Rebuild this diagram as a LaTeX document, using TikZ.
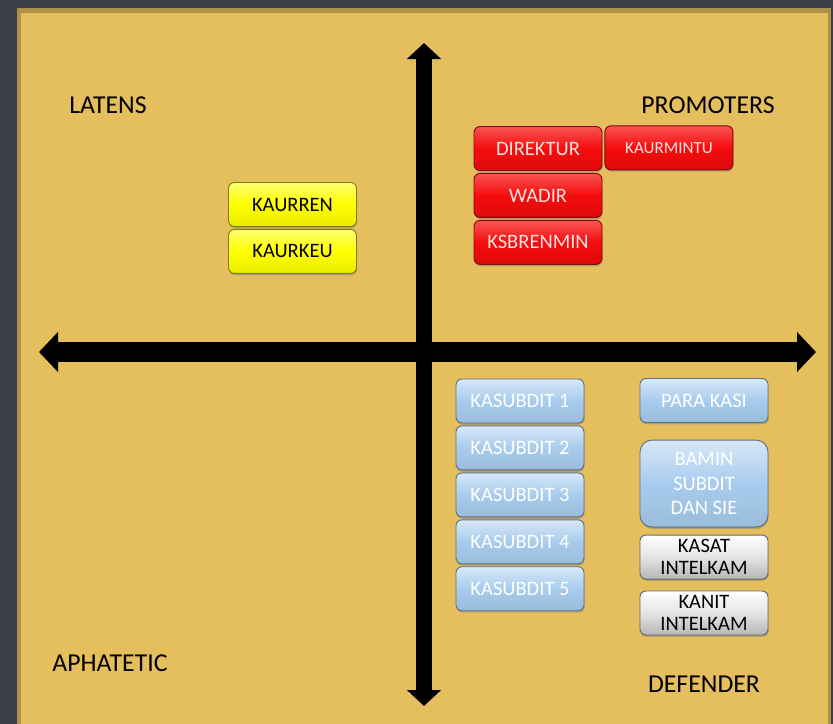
\documentclass[tikz,border=0pt]{standalone}
\usepackage{fontspec}
\setmainfont{Carlito}
\usetikzlibrary{arrows.meta, positioning, shadows}

\definecolor{SHBack}{RGB}{58,62,70}
\definecolor{SHEdge}{RGB}{176,144,72}
\definecolor{SHPanel}{RGB}{229,190,94}
\definecolor{SHRed}{RGB}{246,12,12}
\definecolor{SHRedText}{RGB}{255,226,226}
\definecolor{SHYellow}{RGB}{255,255,0}
\definecolor{SHBlue}{RGB}{168,204,238}
\definecolor{SHGray}{RGB}{228,228,228}

\tikzset{
  box/.style={rectangle, rounded corners=0.18cm, minimum width=3.84cm,
    minimum height=1.32cm, align=center, inner sep=1pt, line width=0.8pt,
    font=\fontsize{17.5}{19}\selectfont,
    drop shadow={shadow xshift=0.5pt, shadow yshift=-1.6pt, opacity=0.5}},
  redbox/.style={box, draw=SHRed!55!black, top color=SHRed!70!white,
    bottom color=SHRed!90!black, middle color=SHRed, text=SHRedText},
  yellowbox/.style={box, draw=SHYellow!50!black, top color=SHYellow!55!white,
    bottom color=SHYellow!92!black, middle color=SHYellow, text=black},
  bluebox/.style={box, draw=SHBlue!55!black, top color=SHBlue!45!white,
    bottom color=SHBlue!92!black, middle color=SHBlue, text=white},
  graybox/.style={box, draw=SHGray!45!black, top color=white,
    bottom color=SHGray!80!black, middle color=SHGray, text=black,
    font=\fontsize{17.5}{19}\selectfont},
  quadrant/.style={font=\fontsize{22}{26}\selectfont, anchor=base},
  axis/.style={line width=0.46cm, draw=black}
}

\begin{document}
\begin{tikzpicture}[x=0.03cm, y=-0.03cm, node distance=0.06cm]
  \useasboundingbox (0,0) rectangle (833,724);

  % backdrop and panel
  \fill[SHBack] (0,0) rectangle (833,724);
  \fill[SHEdge] (17,8) rectangle (831,724);
  \fill[SHPanel] (21,13) rectangle (828,724);

  % axes
  \coordinate (west)  at (39,352);
  \coordinate (east)  at (816,352);
  \coordinate (north) at (424,43);
  \coordinate (south) at (424,706);
  \draw[axis, line width=0.58cm,
    {Triangle[length=0.57cm, width=1.17cm]}-{Triangle[length=0.57cm, width=1.17cm]}]
    (west) -- (east);
  \draw[axis,
    {Triangle[length=0.48cm, width=1.0cm]}-{Triangle[length=0.48cm, width=1.0cm]}]
    (north) -- (south);

  % quadrant names
  \node[quadrant] (latens)   at (108,113) {LATENS};
  \node[quadrant] (promoter) at (708,113) {PROMOTERS};
  \node[quadrant] (aphatic)  at (110,671) {APHATETIC};
  \node[quadrant] (defender) at (704,692) {DEFENDER};

  % promoters
  \node[redbox] (direktur) at (538,148.5) {DIREKTUR};
  \node[redbox, right=of direktur, yshift=0.02cm,
    font=\fontsize{14.5}{16}\selectfont] (kaurmintu) {KAURMINTU};
  \node[redbox, below=of direktur] (wadir) {WADIR};
  \node[redbox, below=of wadir] (ksbrenmin) {KSBRENMIN};

  % latens
  \node[yellowbox] (kaurren) at (292.5,204.5) {KAURREN};
  \node[yellowbox, below=of kaurren] (kaurkeu) {KAURKEU};

  % defenders
  \node[bluebox] (sub1) at (520,401) {KASUBDIT 1};
  \node[bluebox, below=of sub1] (sub2) {KASUBDIT 2};
  \node[bluebox, below=of sub2] (sub3) {KASUBDIT 3};
  \node[bluebox, below=of sub3] (sub4) {KASUBDIT 4};
  \node[bluebox, below=of sub4] (sub5) {KASUBDIT 5};

  \node[bluebox] (parakasi) at (704,400.5) {PARA KASI};
  \node[bluebox, below=0.5cm of parakasi, rounded corners=0.36cm,
    minimum height=2.61cm, font=\fontsize{17.5}{21}\selectfont] (bamin)
    {BAMIN\\SUBDIT\\DAN SIE};
  \node[graybox, below=0.21cm of bamin] (kasat) {KASAT\\INTELKAM};
  \node[graybox, below=0.33cm of kasat] (kanit) {KANIT\\INTELKAM};
\end{tikzpicture}
\end{document}
